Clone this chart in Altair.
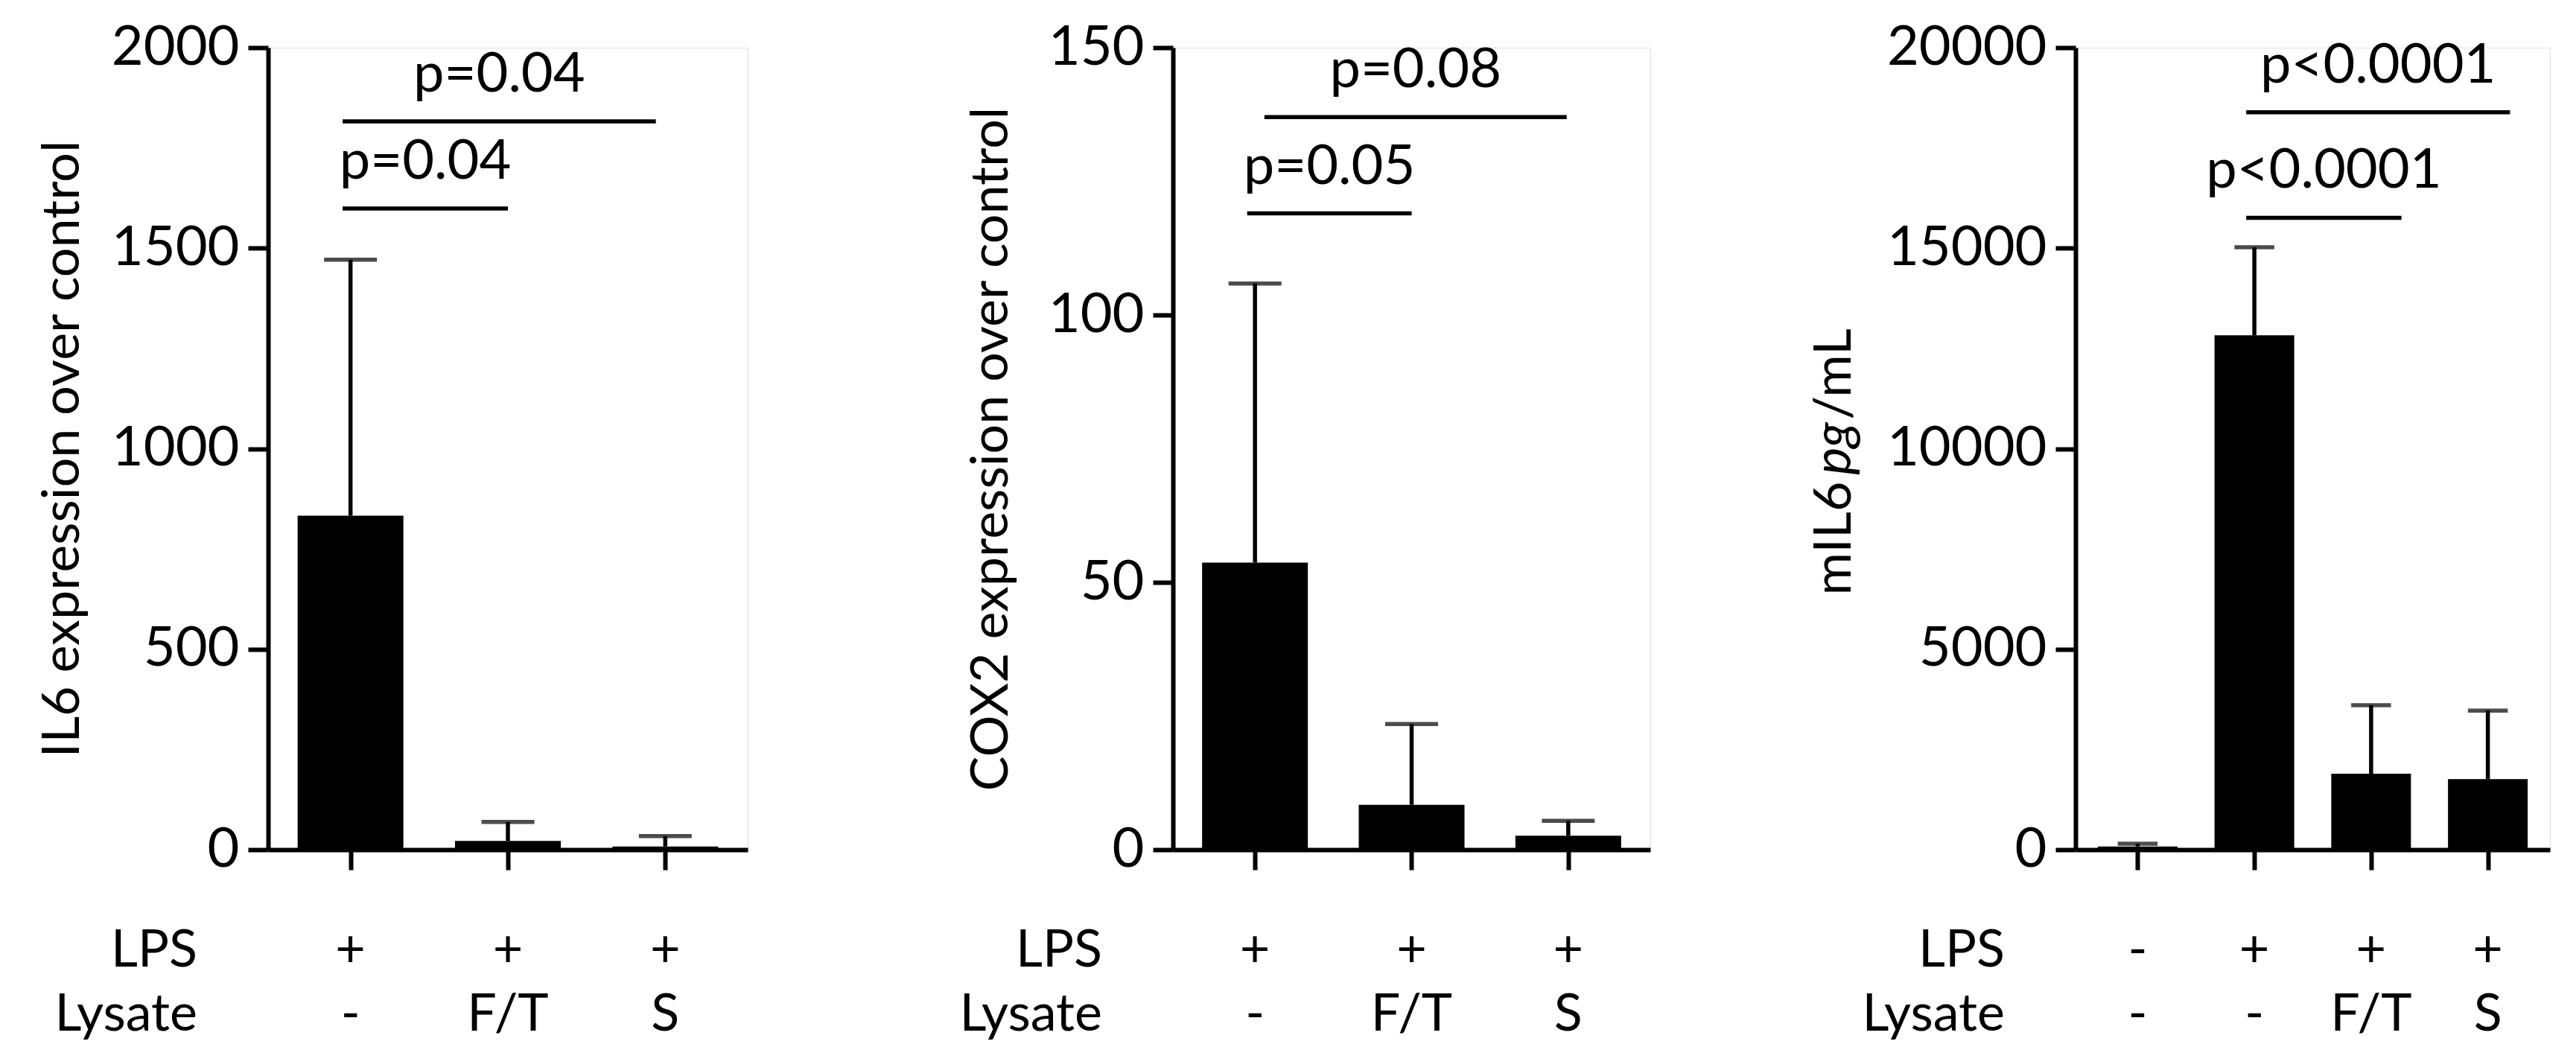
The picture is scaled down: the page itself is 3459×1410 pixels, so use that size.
import altair as alt
import pandas as pd

FONT = "Lato"

# ---------------- data ----------------
row_names = ["LPS", "Lysate"]

# Panel 1: IL6 expression over control
il6_lps = ["+", "+", "+"]
il6_lysate = ["-", "F/T", "S"]
il6_mean = [833, 22, 8]
il6_sd = [638, 47, 26]
il6_sig_from = [0.45, 0.45]
il6_sig_to = [1.50, 2.44]
il6_sig_y = [1599, 1816]
il6_sig_text = ["p=0.04", "p=0.04"]

# Panel 2: COX2 expression over control
cox_lps = ["+", "+", "+"]
cox_lysate = ["-", "F/T", "S"]
cox_mean = [53.7, 8.4, 2.6]
cox_sd = [52.2, 15.1, 2.8]
cox_sig_from = [0.45, 0.56]
cox_sig_to = [1.50, 2.49]
cox_sig_y = [119, 137]
cox_sig_text = ["p=0.05", "p=0.08"]

# Panel 3: mIL6 pg/mL
mil_lps = ["-", "+", "+", "+"]
mil_lysate = ["-", "-", "F/T", "S"]
mil_mean = [80, 12825, 1894, 1760]
mil_sd = [70, 2196, 1710, 1710]
mil_sig_from = [1.43, 1.43]
mil_sig_to = [2.76, 3.69]
mil_sig_y = [15758, 18391]
mil_sig_text = ["p<0.0001", "p<0.0001"]

H = 1077
LW = 5.5


def panel(lps, lysate, mean, sd, sfrom, sto, sy, stext, ymax, ystep, ytitle,
          width, bar_px, title_parts=None):
    n = len(mean)
    df = pd.DataFrame({
        "pos": [i + 0.5 for i in range(n)],
        "lps": lps, "lysate": lysate, "mean": mean,
        "top": [m + s for m, s in zip(mean, sd)],
    })
    sig = pd.DataFrame({"x1": sfrom, "x2": sto, "y": sy, "label": stext})
    sig["xm"] = (sig["x1"] + sig["x2"]) / 2

    xscale = alt.Scale(domain=[0, n], nice=False, zero=False)
    yscale = alt.Scale(domain=[0, ymax], nice=False)
    xaxis = alt.Axis(values=[i + 0.5 for i in range(n)], labels=False, title=None,
                     grid=False, tickSize=27, tickWidth=6, domainWidth=6,
                     tickColor="black", domainColor="black")
    yaxis = alt.Axis(values=list(range(0, ymax + 1, ystep)), grid=False,
                     format="d", labelLimit=1000,
                     title=(ytitle if title_parts is None else None),
                     tickSize=27, tickWidth=6, domainWidth=6,
                     tickColor="black", domainColor="black",
                     labelFont=FONT, labelFontSize=74, labelColor="black",
                     labelPadding=12, titleFont=FONT, titleFontSize=70,
                     titleFontWeight="normal", titleColor="black",
                     titlePadding=40)

    base = alt.Chart(df)
    bars = base.mark_bar(color="black", width=bar_px, orient="vertical").encode(
        x=alt.X("pos:Q", scale=xscale, axis=xaxis),
        y=alt.Y("mean:Q", scale=yscale, axis=yaxis),
    )
    err = base.mark_rule(color="black", strokeWidth=LW).encode(
        x=alt.X("pos:Q", scale=xscale), y=alt.Y("mean:Q", scale=yscale), y2="top:Q")
    caps = base.mark_tick(color="black", orient="horizontal", size=bar_px / 2,
                          thickness=LW).encode(
        x=alt.X("pos:Q", scale=xscale), y=alt.Y("top:Q", scale=yscale))
    t_lps = base.mark_text(font=FONT, fontSize=70, baseline="alphabetic",
                           color="black").encode(
        x=alt.X("pos:Q", scale=xscale), y=alt.value(H + 157), text="lps:N")
    t_lys = base.mark_text(font=FONT, fontSize=70, baseline="alphabetic",
                           color="black").encode(
        x=alt.X("pos:Q", scale=xscale), y=alt.value(H + 243), text="lysate:N")
    hdr = alt.Chart(pd.DataFrame({"t": row_names, "off": [H + 157, H + 243]})).mark_text(
        font=FONT, fontSize=70, baseline="alphabetic", align="right", color="black"
    ).encode(x=alt.value(-95), y=alt.Y("off:Q", scale=None), text="t:N")
    sig_r = alt.Chart(sig).mark_rule(color="black", strokeWidth=LW).encode(
        x=alt.X("x1:Q", scale=xscale), x2="x2:Q", y=alt.Y("y:Q", scale=yscale))
    sig_t = alt.Chart(sig).mark_text(font=FONT, fontSize=74, baseline="alphabetic",
                                     dy=-40, color="black").encode(
        x=alt.X("xm:Q", scale=xscale), y=alt.Y("y:Q", scale=yscale), text="label:N")

    layers = [bars, err, caps, t_lps, t_lys, hdr, sig_r, sig_t]
    if title_parts is not None:
        pieces = [
            (title_parts[0], "right", "normal", H / 2 + 44),
            (title_parts[1], "center", "italic", H / 2),
            (title_parts[2], "left", "normal", H / 2 - 39),
        ]
        for txt, al, st, yy in pieces:
            layers.append(
                alt.Chart(pd.DataFrame({"t": [txt]})).mark_text(
                    font=FONT, fontSize=70, angle=270, align=al, fontStyle=st,
                    baseline="alphabetic", color="black"
                ).encode(x=alt.value(-302), y=alt.value(yy), text="t:N")
            )
    return alt.layer(*layers).properties(width=width, height=H)


p1 = panel(il6_lps, il6_lysate, il6_mean, il6_sd, il6_sig_from, il6_sig_to,
           il6_sig_y, il6_sig_text, 2000, 500, "IL6 expression over control",
           644, 142)
p2 = panel(cox_lps, cox_lysate, cox_mean, cox_sd, cox_sig_from, cox_sig_to,
           cox_sig_y, cox_sig_text, 150, 50, "COX2 expression over control",
           641, 142)
p3 = panel(mil_lps, mil_lysate, mil_mean, mil_sd, mil_sig_from, mil_sig_to,
           mil_sig_y, mil_sig_text, 20000, 5000, "mIL6 pg/mL",
           637, 107, title_parts=["mIL6", "pg", "/mL"])

chart = alt.hconcat(p1, p2, p3, spacing=571, bounds="flush").properties(
    padding={"left": 40, "top": 18, "right": 5, "bottom": 5}
).configure_view(stroke=None).configure(background="white")

chart.save("out.html", embed_options={"renderer": "svg", "actions": False})
